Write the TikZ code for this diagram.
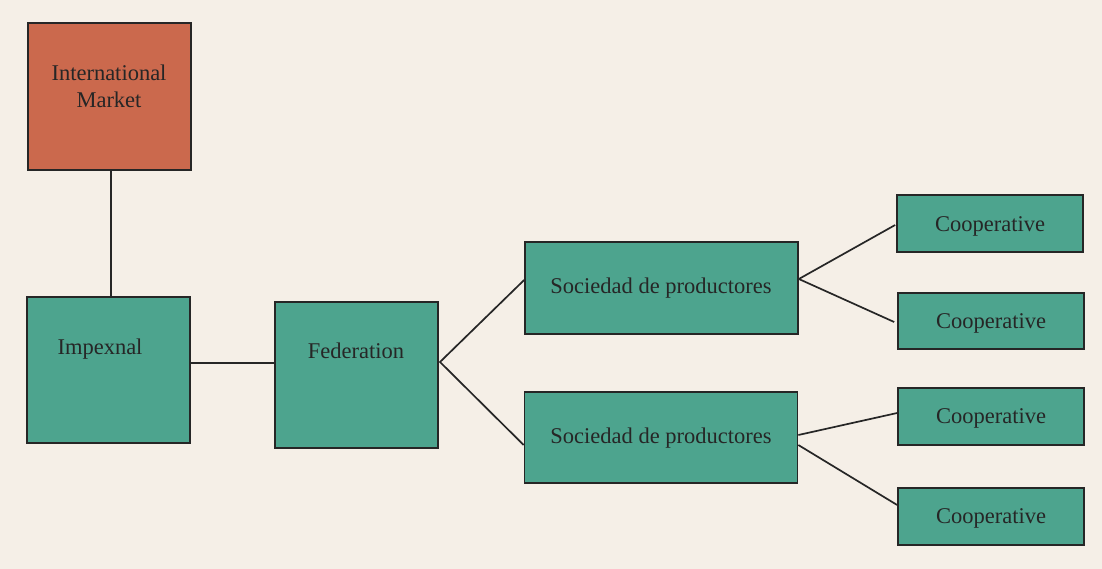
\documentclass[tikz,border=0pt]{standalone}
\usepackage{fontspec}
\setmainfont{Liberation Serif}
\definecolor{bgcream}{HTML}{F5EFE7}
\definecolor{boxteal}{HTML}{4DA48E}
\definecolor{boxorange}{HTML}{CB694D}
\definecolor{inkdark}{HTML}{262626}
\begin{document}
\begin{tikzpicture}[x=1pt,y=-1pt,
  box/.style={draw=inkdark,line width=1.7pt,fill=boxteal,inner sep=0pt},
  txt/.style={text=inkdark,font=\fontsize{22.5}{27}\selectfont,inner sep=0pt,align=center},
  link/.style={draw=inkdark,line width=1.7pt}]
\fill[bgcream] (0,0) rectangle (1102,569);
\useasboundingbox (0,0) rectangle (1102,569);
% boxes
\node[box,fill=boxorange,minimum width=163pt,minimum height=147pt] (im) at (109.5,96.5) {};
\node[box,minimum width=163pt,minimum height=146pt] (imp) at (108.5,370) {};
\node[box,minimum width=163pt,minimum height=146pt] (fed) at (356.5,375) {};
\node[box,minimum width=273pt,minimum height=92pt] (s1) at (661.5,288) {};
\node[box,minimum width=273pt,minimum height=91pt] (s2) at (661,437.5) {};
\node[box,minimum width=186pt,minimum height=57pt] (c1) at (990,223.5) {};
\node[box,minimum width=186pt,minimum height=56pt] (c2) at (991,321) {};
\node[box,minimum width=186pt,minimum height=57pt] (c3) at (991,416.5) {};
\node[box,minimum width=186pt,minimum height=57pt] (c4) at (991,516.5) {};
% texts
\node[txt] (imt) at (109,86) {International\\Market};
\node[txt] (impt) at (100,349) {Impexnal};
\node[txt] (fedt) at (356,351) {Federation};
\node[txt] (s1t) at (661,288) {Sociedad de productores};
\node[txt] (s2t) at (661,438) {Sociedad de productores};
\node[txt] (c1t) at (990,226) {Cooperative};
\node[txt] (c2t) at (991,323) {Cooperative};
\node[txt] (c3t) at (991,418) {Cooperative};
\node[txt] (c4t) at (991,518) {Cooperative};
% connectors
\coordinate (fa) at (440,362);
\coordinate (ie) at ([yshift=7pt]imp.east);
\draw[link] ([xshift=1.5pt]im.south) -- ([xshift=2.5pt]imp.north);
\draw[link] (ie) -- (fed.west |- ie);
\draw[link] ([yshift=8pt]s1.west) -- (fa) -- ([yshift=-7.5pt]s2.west);
\draw[link] ([xshift=-1pt,yshift=-1.5pt]c1.west) -- ([yshift=9pt]s1.east) -- ([xshift=-3pt,yshift=-1pt]c2.west);
\draw[link] ([yshift=3.5pt]c3.west) -- ([yshift=2.5pt]s2.east);
\draw[link] ([yshift=-7.5pt]s2.east) -- ([yshift=11.5pt]c4.west);
\end{tikzpicture}
\end{document}
